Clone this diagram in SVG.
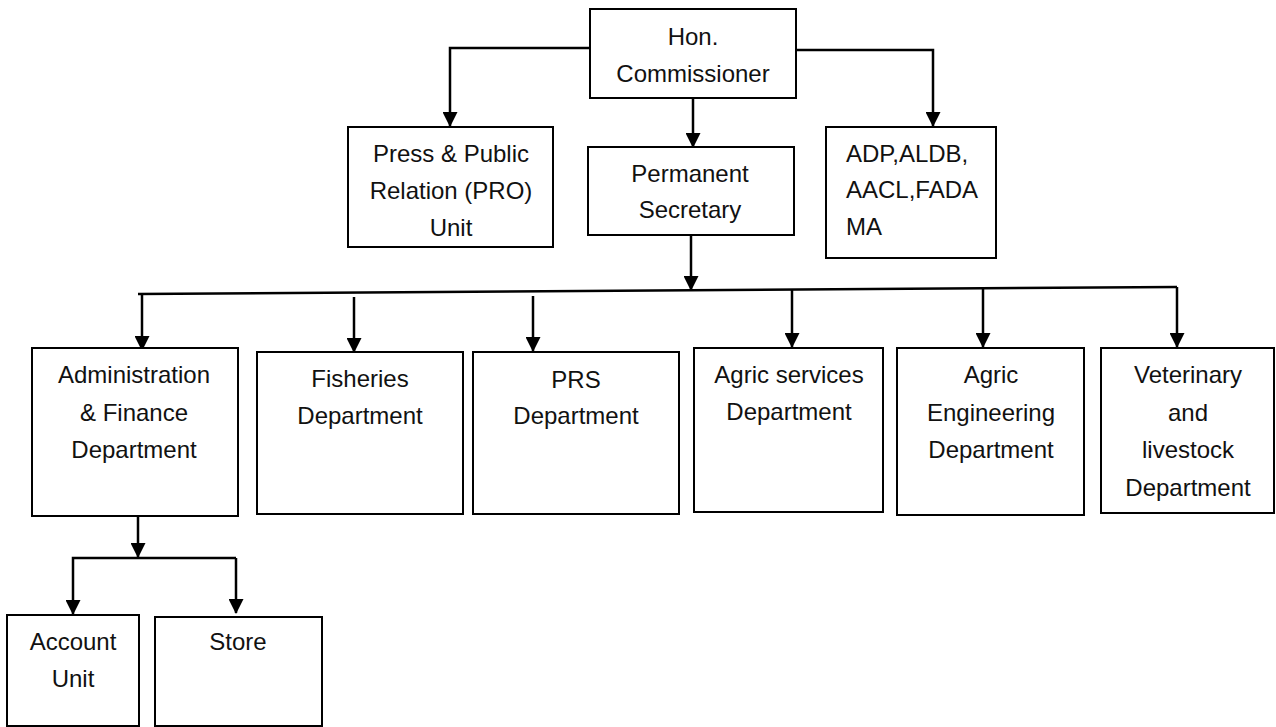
<svg xmlns="http://www.w3.org/2000/svg" width="1276" height="727" viewBox="0 0 1276 727">
<style>
.box{fill:#fff;stroke:#000;stroke-width:2}
.t{font-family:"Liberation Sans",Arial,sans-serif;font-size:24px;fill:#111;text-anchor:middle}
.tl{font-family:"Liberation Sans",Arial,sans-serif;font-size:24px;fill:#111;text-anchor:start}
.c{fill:none;stroke:#000;stroke-width:2.5}
</style>
<defs>
<marker id="ah" viewBox="0 0 15 15" markerWidth="15" markerHeight="15" refX="14" refY="7.5" orient="auto" markerUnits="userSpaceOnUse">
<path d="M0,0 L15,7.5 L0,15 z" fill="#000"/>
</marker>
</defs>
<rect width="1276" height="727" fill="#fff"/>
<g id="connectors">
<polyline class="c" points="589,48 450,48 450,126" marker-end="url(#ah)"/>
<polyline class="c" points="796,50 933,50 933,126" marker-end="url(#ah)"/>
<line class="c" x1="693" y1="98" x2="693" y2="147" marker-end="url(#ah)"/>
<line class="c" x1="691" y1="235" x2="691" y2="290" marker-end="url(#ah)"/>
<line class="c" x1="138" y1="294" x2="1177" y2="287"/>
<line class="c" x1="142" y1="294" x2="142" y2="350" marker-end="url(#ah)"/>
<line class="c" x1="354" y1="297" x2="354" y2="352" marker-end="url(#ah)"/>
<line class="c" x1="533" y1="296" x2="533" y2="351" marker-end="url(#ah)"/>
<line class="c" x1="792" y1="290" x2="792" y2="347" marker-end="url(#ah)"/>
<line class="c" x1="983" y1="288" x2="983" y2="347" marker-end="url(#ah)"/>
<line class="c" x1="1177" y1="287" x2="1177" y2="347" marker-end="url(#ah)"/>
<line class="c" x1="138" y1="516" x2="138" y2="557" marker-end="url(#ah)"/>
<polyline class="c" points="236,558 73,558 73,614" marker-end="url(#ah)"/>
<line class="c" x1="236" y1="558" x2="236" y2="613" marker-end="url(#ah)"/>
</g>
<g id="hon">
<rect class="box" x="590" y="9" width="206" height="89"/>
<text class="t" x="693" y="45">Hon.</text>
<text class="t" x="693" y="82">Commissioner</text>
</g>
<g id="pro">
<rect class="box" x="348" y="127" width="205" height="120"/>
<text class="t" x="451" y="162">Press &amp; Public</text>
<text class="t" x="451" y="199">Relation (PRO)</text>
<text class="t" x="451" y="236">Unit</text>
</g>
<g id="permsec">
<rect class="box" x="588" y="147" width="206" height="88"/>
<text class="t" x="690" y="182">Permanent</text>
<text class="t" x="690" y="218">Secretary</text>
</g>
<g id="adp">
<rect class="box" x="826" y="127" width="170" height="131"/>
<text class="tl" x="846" y="162">ADP,ALDB,</text>
<text class="tl" x="846" y="198">AACL,FADA</text>
<text class="tl" x="846" y="235">MA</text>
</g>
<g id="admin">
<rect class="box" x="32" y="348" width="206" height="168"/>
<text class="t" x="134" y="383">Administration</text>
<text class="t" x="134" y="421">&amp; Finance</text>
<text class="t" x="134" y="458">Department</text>
</g>
<g id="fisheries">
<rect class="box" x="257" y="352" width="206" height="162"/>
<text class="t" x="360" y="387">Fisheries</text>
<text class="t" x="360" y="424">Department</text>
</g>
<g id="prs">
<rect class="box" x="473" y="352" width="206" height="162"/>
<text class="t" x="576" y="388">PRS</text>
<text class="t" x="576" y="424">Department</text>
</g>
<g id="agricservices">
<rect class="box" x="694" y="348" width="189" height="164"/>
<text class="t" x="789" y="383">Agric services</text>
<text class="t" x="789" y="420">Department</text>
</g>
<g id="agriceng">
<rect class="box" x="897" y="348" width="187" height="167"/>
<text class="t" x="991" y="383">Agric</text>
<text class="t" x="991" y="421">Engineering</text>
<text class="t" x="991" y="458">Department</text>
</g>
<g id="vet">
<rect class="box" x="1101" y="348" width="173" height="165"/>
<text class="t" x="1188" y="383">Veterinary</text>
<text class="t" x="1188" y="421">and</text>
<text class="t" x="1188" y="458">livestock</text>
<text class="t" x="1188" y="496">Department</text>
</g>
<g id="account">
<rect class="box" x="7" y="615" width="132" height="111"/>
<text class="t" x="73" y="650">Account</text>
<text class="t" x="73" y="687">Unit</text>
</g>
<g id="store">
<rect class="box" x="155" y="617" width="167" height="109"/>
<text class="t" x="238" y="650">Store</text>
</g>
</svg>
